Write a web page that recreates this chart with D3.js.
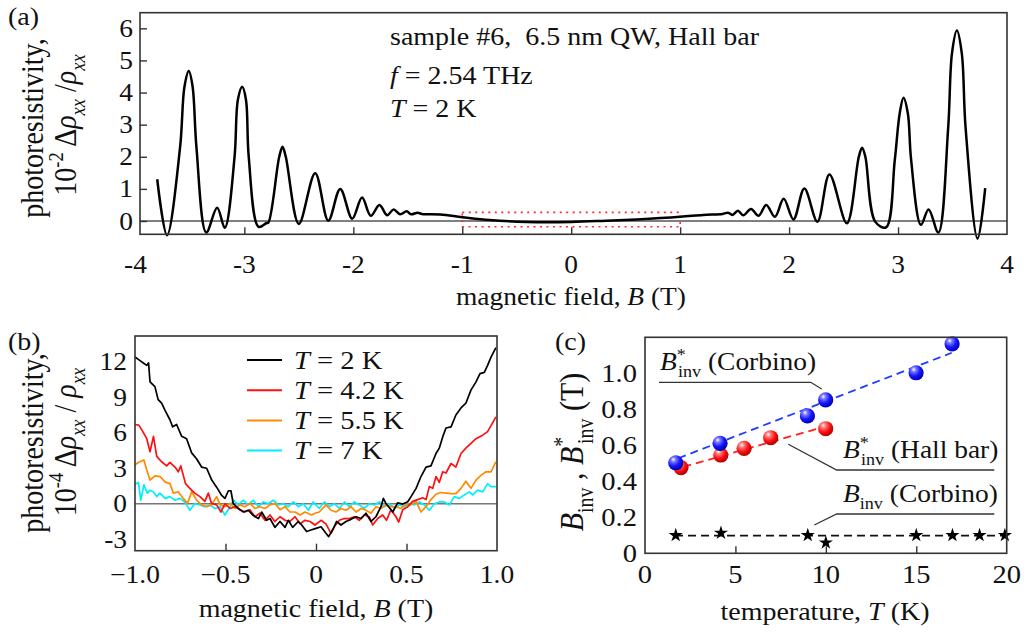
<!DOCTYPE html>
<html>
<head>
<meta charset="utf-8">
<script src="https://cdn.jsdelivr.net/npm/d3@7"></script>
<style>
  html, body { margin: 0; padding: 0; background: #fff; }
  svg { display: block; font-family: "Liberation Serif", "Times New Roman", serif; }
</style>
</head>
<body>
<svg id="fig" width="1026" height="639"></svg>
<script>
// ---------- panel (a): photoresistivity vs field, T = 2 K ----------
const fieldA = [-3.80, -3.71, -3.59, -3.55, -3.51, -3.475, -3.44, -3.35, -3.25, -3.18, -3.09, -3.06, -3.02, -2.985, -2.96,
  -2.87, -2.80, -2.78, -2.68, -2.65, -2.62, -2.50, -2.35, -2.23, -2.12, -2.01, -1.92, -1.84, -1.76, -1.69, -1.63, -1.57,
  -1.51, -1.47, -1.41, -1.37, -1.20, -1.00, -0.75, -0.41, 0.00, 0.32, 0.60, 1.00, 1.21, 1.39, 1.44, 1.48, 1.53, 1.58,
  1.65, 1.72, 1.79, 1.87, 1.95, 2.04, 2.14, 2.26, 2.37, 2.53, 2.64, 2.67, 2.70, 2.79, 2.89, 2.97, 3.015, 3.05, 3.09,
  3.12, 3.21, 3.28, 3.37, 3.46, 3.495, 3.54, 3.585, 3.62, 3.73, 3.80];
const photoA = [1.30, -0.44, 2.30, 4.18, 4.67, 4.18, 2.30, -0.36, 0.41, -0.21, 2.00, 3.77, 4.18, 3.77, 2.00,
  -0.18, -0.07, -0.05, 2.00, 2.31, 2.00, -0.09, 1.49, 0.01, 1.00, 0.07, 0.73, 0.16, 0.50, 0.18, 0.36, 0.21,
  0.30, 0.21, 0.26, 0.22, 0.20, 0.12, 0.03, -0.03, -0.03, 0.01, 0.05, 0.13, 0.19, 0.22, 0.26, 0.19, 0.32, 0.18,
  0.37, 0.16, 0.50, 0.13, 0.69, 0.05, 1.01, -0.02, 1.45, -0.07, 2.00, 2.28, 2.00, -0.02, -0.20, 1.90, 3.35, 3.84, 3.35,
  1.90, -0.12, 0.36, -0.36, 2.90, 5.22, 5.93, 5.22, 2.90, -0.55, 1.02];
const ticksA_x = [-4, -3, -2, -1, 0, 1, 2, 3, 4];
const ticksA_y = [0, 1, 2, 3, 4, 5, 6];
const zoomWindowB = [-1, 1];
const zoomWindowRho = [-0.18, 0.27];

// ---------- panel (b): low-field photoresistivity, several temperatures ----------
const curve2K = [[-1.0, 12.4], [-0.972, 12.1], [-0.954, 11.9], [-0.935, 11.7], [-0.925, 11.9], [-0.917, 10.3], [-0.890, 9.9],
  [-0.872, 8.8], [-0.853, 8.5], [-0.834, 7.9], [-0.807, 7.1], [-0.792, 6.5], [-0.770, 6.7], [-0.742, 5.7], [-0.715, 5.5],
  [-0.687, 4.3], [-0.660, 3.8], [-0.632, 3.1], [-0.604, 3.0], [-0.576, 2.0], [-0.549, 1.4], [-0.521, 0.7], [-0.503, 0.45],
  [-0.484, 1.1], [-0.470, 1.1], [-0.457, 0.0], [-0.429, -0.4], [-0.401, -0.7], [-0.374, -0.55], [-0.346, -1.0], [-0.318, -1.25],
  [-0.300, -0.7], [-0.273, -1.4], [-0.254, -1.25], [-0.227, -2.0], [-0.199, -1.5], [-0.171, -2.0], [-0.153, -1.4], [-0.129, -2.0],
  [-0.098, -1.5], [-0.079, -1.8], [-0.052, -2.35], [-0.024, -2.2], [0.0, -2.08], [0.028, -1.95], [0.055, -2.5], [0.070, -2.78],
  [0.092, -2.2], [0.114, -1.5], [0.138, -1.8], [0.166, -1.5], [0.193, -1.32], [0.221, -1.1], [0.249, -1.25], [0.276, -0.8],
  [0.304, -1.5], [0.331, -1.1], [0.359, -0.25], [0.372, 0.45], [0.387, 0.0], [0.409, -0.4], [0.424, -0.7], [0.451, 0.08],
  [0.479, -0.03], [0.507, 0.17], [0.525, 0.6], [0.553, 1.3], [0.580, 2.3], [0.608, 3.1], [0.635, 3.2], [0.663, 4.25],
  [0.681, 4.7], [0.700, 5.65], [0.718, 6.4], [0.746, 6.5], [0.773, 7.5], [0.801, 8.1], [0.828, 8.5], [0.856, 9.6],
  [0.884, 10.3], [0.906, 11.0], [0.930, 11.1], [0.948, 11.7], [0.967, 12.4], [0.994, 13.2]];
const curve4K2 = [[-1.0, 6.7], [-0.979, 6.65], [-0.961, 6.2], [-0.935, 5.5], [-0.917, 4.4], [-0.898, 5.7], [-0.880, 4.0],
  [-0.853, 3.55], [-0.825, 3.2], [-0.807, 3.5], [-0.779, 3.1], [-0.761, 2.7], [-0.747, 3.2], [-0.721, 1.7], [-0.697, 1.3],
  [-0.670, 0.9], [-0.641, 0.6], [-0.614, 0.2], [-0.595, 0.9], [-0.577, 0.03], [-0.549, -0.1], [-0.525, -0.7], [-0.503, 0.0],
  [-0.475, -0.4], [-0.448, -0.25], [-0.420, -0.5], [-0.393, -0.7], [-0.365, -0.5], [-0.337, -1.1], [-0.310, -0.8], [-0.282, -1.4],
  [-0.254, -0.95], [-0.227, -1.5], [-0.199, -1.1], [-0.171, -1.4], [-0.144, -1.5], [-0.116, -1.1], [-0.088, -1.7], [-0.061, -1.4],
  [-0.033, -1.5], [-0.006, -1.8], [0.028, -1.4], [0.055, -1.7], [0.083, -2.5], [0.101, -1.95], [0.129, -1.4], [0.157, -1.25],
  [0.184, -1.25], [0.212, -1.1], [0.239, -1.4], [0.267, -0.95], [0.295, -1.1], [0.313, -1.8], [0.341, -1.25], [0.368, -0.95],
  [0.390, -1.4], [0.414, -0.5], [0.442, -1.1], [0.457, -1.55], [0.479, -0.5], [0.507, -0.25], [0.534, 0.2], [0.562, 0.35],
  [0.589, 0.5], [0.608, 0.35], [0.626, 1.45], [0.645, 1.3], [0.663, 2.3], [0.681, 1.8], [0.700, 2.7], [0.718, 2.6],
  [0.746, 3.4], [0.773, 3.1], [0.801, 4.25], [0.828, 4.7], [0.856, 5.1], [0.884, 5.5], [0.921, 5.8], [0.948, 6.1],
  [0.967, 6.6], [0.994, 7.35]];
const curve5K5 = [[-1.0, 3.3], [-0.979, 3.5], [-0.951, 3.7], [-0.935, 2.85], [-0.917, 2.0], [-0.890, 2.35], [-0.862, 2.3],
  [-0.834, 1.85], [-0.807, 1.7], [-0.788, 0.9], [-0.761, 1.0], [-0.733, 0.45], [-0.710, 0.03], [-0.687, 1.0], [-0.660, 0.3],
  [-0.632, -0.1], [-0.604, -0.25], [-0.577, -0.1], [-0.549, 0.6], [-0.530, -0.1], [-0.503, -0.25], [-0.475, 0.03], [-0.448, -0.4],
  [-0.420, -0.1], [-0.393, -0.25], [-0.365, 0.03], [-0.337, -0.4], [-0.310, -0.25], [-0.282, -0.4], [-0.254, -0.1], [-0.227, 0.03],
  [-0.199, -0.5], [-0.171, -0.25], [-0.144, -0.7], [-0.116, -0.7], [-0.088, -0.95], [-0.061, -0.7], [-0.024, -0.95], [-0.006, -0.8],
  [0.018, -0.7], [0.055, -0.1], [0.083, -0.55], [0.110, -0.7], [0.138, -0.4], [0.166, -0.55], [0.193, -0.25], [0.221, -0.7],
  [0.249, -0.4], [0.276, -0.55], [0.304, -0.8], [0.331, -0.25], [0.359, -0.4], [0.387, -0.1], [0.414, -0.25], [0.442, -0.25],
  [0.470, -0.4], [0.497, 0.0], [0.525, -0.1], [0.553, 0.2], [0.580, -0.7], [0.608, -0.25], [0.635, 0.35], [0.663, 0.8],
  [0.690, 0.95], [0.718, 0.9], [0.746, 0.85], [0.773, 0.85], [0.801, 1.3], [0.828, 1.9], [0.856, 1.3], [0.884, 2.0],
  [0.911, 2.4], [0.939, 2.7], [0.967, 2.7], [0.994, 3.55]];
const curve7K = [[-1.0, 1.65], [-0.981, 1.8], [-0.968, 0.3], [-0.951, 1.6], [-0.932, 0.9], [-0.917, 1.15], [-0.898, 1.0],
  [-0.880, 0.6], [-0.862, 0.9], [-0.834, 0.45], [-0.807, 0.6], [-0.779, 0.3], [-0.752, 0.45], [-0.725, 0.15], [-0.697, -0.55],
  [-0.670, 0.0], [-0.641, -0.1], [-0.614, -0.25], [-0.586, -0.1], [-0.558, -0.4], [-0.530, -0.25], [-0.503, -0.95], [-0.475, -0.25],
  [-0.457, 0.3], [-0.429, -0.1], [-0.402, 0.3], [-0.374, -0.1], [-0.346, 0.3], [-0.318, -0.25], [-0.291, 0.15], [-0.263, 0.0],
  [-0.236, 0.3], [-0.208, -0.1], [-0.180, 0.0], [-0.153, -0.25], [-0.125, 0.15], [-0.098, -0.25], [-0.070, 0.0], [-0.042, -0.55],
  [-0.015, 0.15], [0.018, -0.4], [0.046, 0.15], [0.074, -0.25], [0.101, 0.0], [0.129, -0.4], [0.157, 0.15], [0.184, -0.25],
  [0.212, 0.15], [0.239, -0.1], [0.267, -0.4], [0.295, 0.0], [0.322, -0.1], [0.350, 0.15], [0.377, -0.25], [0.405, 0.0],
  [0.433, -0.4], [0.460, -0.1], [0.488, -0.25], [0.516, 0.0], [0.543, -0.1], [0.571, 0.15], [0.599, -0.1], [0.626, -0.55],
  [0.654, 0.0], [0.681, 0.15], [0.709, 0.15], [0.737, -0.1], [0.764, 0.6], [0.792, 0.45], [0.820, 0.75], [0.847, 1.0],
  [0.866, 0.75], [0.893, 1.15], [0.921, 1.0], [0.948, 1.7], [0.967, 1.45], [0.994, 1.45]];
const seriesB = [
  { name: "2", data: curve2K, color: "#000000" },
  { name: "4.2", data: curve4K2, color: "#ff1010" },
  { name: "5.5", data: curve5K5, color: "#ff8a00" },
  { name: "7", data: curve7K, color: "#00eeff" }
];
const ticksB_x = [-1.0, -0.5, 0, 0.5, 1.0];
const ticksB_y = [-3, 0, 3, 6, 9, 12];

// ---------- panel (c): inversion fields vs temperature ----------
const tempCorbinoStar = [1.7, 4.15, 8.98, 9.99, 14.99, 16.98];
const bCorbinoStar = [0.503, 0.611, 0.763, 0.852, 1.003, 1.163];
const tempHallStar = [1.99, 4.19, 5.48, 6.95, 9.99];
const bHallStar = [0.476, 0.546, 0.583, 0.642, 0.692];
const tempCorbino = [1.7, 4.2, 9.0, 10.0, 15.0, 17.0, 18.5, 19.9];
const bCorbino = [0.10, 0.113, 0.10, 0.059, 0.10, 0.10, 0.10, 0.10];
const fitCorbinoStar = [[1.84, 0.528], [16.96, 1.114]];
const fitHallStar = [[2.12, 0.48], [10.05, 0.707]];
const fitCorbino = [[1.66, 0.098], [20, 0.098]];
const ticksC_x = [0, 5, 10, 15, 20];
const ticksC_y = [0, 0.2, 0.4, 0.6, 0.8, 1.0];

// ---------- shared drawing helpers ----------
const svg = d3.select("#fig");
const SX = 1.12;          // glyphs of this figure run a little wide
const INK = "#111";
const FRAME = "#333";
const TICK_FS = 24.5;

function label(g, x, y, parts, o = {}) {
  const fs = o.size || 24;
  const rot = o.rotate ? " rotate(-90)" : "";
  const t = g.append("text")
    .attr("transform", `translate(${x},${y}) scale(${SX},1)${rot}`)
    .attr("font-size", fs)
    .attr("text-anchor", o.anchor || "start")
    .style("white-space", "pre")
    .attr("fill", o.fill || INK);
  let cur = 0;
  parts.forEach(p => {
    if (typeof p === "string") p = { t: p };
    let target = 0, size = fs;
    if (p.sub) { target = fs * 0.3; size = fs * 0.66; }
    if (p.sup) { target = -fs * 0.42; size = fs * 0.66; }
    const ts = t.append("tspan").text(p.t).attr("font-size", size);
    if (target - cur !== 0) ts.attr("dy", target - cur);
    if (p.dx) ts.attr("dx", p.dx);
    if (p.it) ts.attr("font-style", "italic");
    cur = target;
  });
  return t;
}

function frame(x0, y0, x1, y1) {
  svg.append("rect").attr("x", x0).attr("y", y0).attr("width", x1 - x0).attr("height", y1 - y0)
    .attr("fill", "none").attr("stroke", FRAME).attr("stroke-width", 1.6);
}

function inwardTicks(axis, scale, ticks, at, keep) {
  const g = svg.append("g").attr("transform", axis === "x" ? `translate(0,${at})` : `translate(${at},0)`);
  const ax = (axis === "x" ? d3.axisBottom(scale) : d3.axisLeft(scale))
    .tickValues(ticks.filter(keep)).tickSize(-7).tickFormat("");
  g.call(ax);
  g.select(".domain").remove();
  g.selectAll(".tick line").attr("stroke", FRAME).attr("stroke-width", 1.4);
}

// ================= (a) =================
const xA = d3.scaleLinear().domain([-3.958, 4.0]).range([140, 1007]);
const yA = d3.scaleLinear().domain([-0.414, 6.486]).range([234.3, 12.7]);

svg.append("line").attr("x1", xA.range()[0]).attr("x2", xA.range()[1])
  .attr("y1", yA(0)).attr("y2", yA(0)).attr("stroke", "#000").attr("stroke-width", 1.2);

svg.append("rect")
  .attr("x", xA(zoomWindowB[0])).attr("y", yA(zoomWindowRho[1]))
  .attr("width", xA(zoomWindowB[1]) - xA(zoomWindowB[0]))
  .attr("height", yA(zoomWindowRho[0]) - yA(zoomWindowRho[1]))
  .attr("fill", "none").attr("stroke", "#ff2a2a").attr("stroke-width", 1.6)
  .attr("stroke-dasharray", "2,4.5");

const lineA = d3.line().x(d => xA(d[0])).y(d => yA(d[1])).curve(d3.curveCatmullRom.alpha(0.5));
svg.append("path").datum(d3.zip(fieldA, photoA)).attr("d", lineA)
  .attr("fill", "none").attr("stroke", "#000").attr("stroke-width", 2.5).attr("stroke-linejoin", "round");

frame(140, 12.7, 1007, 234.3);
inwardTicks("x", xA, ticksA_x, 234.3, v => xA(v) > 141 && xA(v) < 1006);
inwardTicks("y", yA, ticksA_y, 140, () => true);

ticksA_x.forEach(v => label(svg, xA(v), 273, [String(v)], { anchor: "middle", size: TICK_FS }));
ticksA_y.forEach(v => label(svg, 133, yA(v) + 8.5, [String(v)], { anchor: "end", size: TICK_FS }));

label(svg, 571, 305, ["magnetic field, ", { t: "B", it: true }, " (T)"], { anchor: "middle", size: 24.5 });
label(svg, 43, 128, ["photoresistivity,"], { anchor: "middle", size: 28, rotate: true });
label(svg, 76, 125, ["10", { t: "-2", sup: true }, " \u0394", { t: "\u03c1", it: true }, { t: "xx", sub: true, it: true },
  " /", { t: "\u03c1", it: true }, { t: "xx", sub: true, it: true }], { anchor: "middle", size: 28, rotate: true });
label(svg, 8, 25, ["(a)"], { size: 25 });

label(svg, 390, 45, ["sample #6,  6.5 nm QW, Hall bar"], { size: 25 });
label(svg, 390, 84, [{ t: "f", it: true }, " = 2.54 THz"], { size: 25 });
label(svg, 390, 117, [{ t: "T", it: true }, " = 2 K"], { size: 25 });

// ================= (b) =================
const xB = d3.scaleLinear().domain([-1, 1]).range([135, 497]);
const yB = d3.scaleLinear().domain([-3.97, 14.18]).range([550.7, 336]);

svg.append("line").attr("x1", 135).attr("x2", 497).attr("y1", yB(0)).attr("y2", yB(0))
  .attr("stroke", "#777").attr("stroke-width", 1.4);

const lineB = d3.line().x(d => xB(d[0])).y(d => yB(d[1]));
[...seriesB].reverse().forEach(s => {
  svg.append("path").datum(s.data).attr("d", lineB)
    .attr("fill", "none").attr("stroke", s.color).attr("stroke-width", 1.7).attr("stroke-linejoin", "round");
});

frame(135, 336, 497, 550.7);
inwardTicks("x", xB, ticksB_x, 550.7, v => xB(v) > 136 && xB(v) < 496);

const fmtB = v => (v === 0 ? "0" : d3.format(".1f")(v));
ticksB_x.forEach(v => label(svg, xB(v), 583, [fmtB(v)], { anchor: "middle", size: TICK_FS }));
ticksB_y.forEach(v => label(svg, 127, yB(v) + 8.5, [String(v)], { anchor: "end", size: TICK_FS }));

seriesB.forEach((s, i) => {
  const yy = 360 + i * 30.2;
  svg.append("line").attr("x1", 247).attr("x2", 282).attr("y1", yy).attr("y2", yy)
    .attr("stroke", s.color).attr("stroke-width", 2);
  label(svg, 294, yy + 8.5, [{ t: "T", it: true }, ` = ${s.name} K`], { size: 25.5 });
});

label(svg, 316, 617, ["magnetic field, ", { t: "B", it: true }, " (T)"], { anchor: "middle", size: 25 });
label(svg, 43, 443, ["photoresistivity,"], { anchor: "middle", size: 28, rotate: true });
label(svg, 76, 442, ["10", { t: "-4", sup: true }, " \u0394", { t: "\u03c1", it: true }, { t: "xx", sub: true, it: true },
  " / ", { t: "\u03c1", it: true }, { t: "xx", sub: true, it: true }], { anchor: "middle", size: 28, rotate: true });
label(svg, 8, 350, ["(b)"], { size: 25 });

// ================= (c) =================
const xC = d3.scaleLinear().domain([0, 20]).range([645, 1006.7]);
const yC = d3.scaleLinear().domain([0, 1.2]).range([553.3, 337.3]);

const defs = svg.append("defs");
function ballGradient(id, light, base, dark) {
  const gr = defs.append("radialGradient").attr("id", id)
    .attr("cx", "38%").attr("cy", "32%").attr("r", "70%").attr("fx", "34%").attr("fy", "28%");
  gr.append("stop").attr("offset", "0%").attr("stop-color", "#ffffff");
  gr.append("stop").attr("offset", "22%").attr("stop-color", light);
  gr.append("stop").attr("offset", "60%").attr("stop-color", base);
  gr.append("stop").attr("offset", "100%").attr("stop-color", dark);
}
ballGradient("ballBlue", "#7c7cff", "#1414ff", "#0000a8");
ballGradient("ballRed", "#ff8080", "#ff1010", "#a80000");

const lineC = d3.line().x(d => xC(d[0])).y(d => yC(d[1]));
[[fitCorbinoStar, "#1f3cff"], [fitHallStar, "#ff2020"], [fitCorbino, "#111"]].forEach(([pts, c]) => {
  svg.append("path").datum(pts).attr("d", lineC).attr("fill", "none")
    .attr("stroke", c).attr("stroke-width", 1.8).attr("stroke-dasharray", "8,5");
});

svg.append("g").selectAll("circle").data(d3.zip(tempHallStar, bHallStar)).join("circle")
  .attr("cx", d => xC(d[0])).attr("cy", d => yC(d[1])).attr("r", 7.6).attr("fill", "url(#ballRed)");
svg.append("g").selectAll("circle").data(d3.zip(tempCorbinoStar, bCorbinoStar)).join("circle")
  .attr("cx", d => xC(d[0])).attr("cy", d => yC(d[1])).attr("r", 7.6).attr("fill", "url(#ballBlue)");

const star = d3.symbol().type(d3.symbolStar).size(62);
svg.append("g").selectAll("path").data(d3.zip(tempCorbino, bCorbino)).join("path")
  .attr("transform", d => `translate(${xC(d[0])},${yC(d[1])})`).attr("d", star).attr("fill", "#000");

frame(645, 337.3, 1006.7, 553.3);
inwardTicks("x", xC, ticksC_x, 553.3, v => xC(v) > 646 && xC(v) < 1006);

ticksC_x.forEach(v => label(svg, xC(v), 583, [String(v)], { anchor: "middle", size: 25.5 }));
ticksC_y.forEach(v => label(svg, 637, yC(v) + 8.5, [v === 0 ? "0" : d3.format(".1f")(v)], { anchor: "end", size: 25.5 }));

// leader lines from the annotations to their data sets
const leader = d3.line();
[
  [[659, 382.3], [810.7, 382.3], [821.7, 389]],
  [[788.3, 444.3], [836.7, 470], [994.3, 470]],
  [[814.3, 525], [836.7, 514], [994.3, 514]]
].forEach(pts => {
  svg.append("path").attr("d", leader(pts)).attr("fill", "none").attr("stroke", "#333").attr("stroke-width", 1.3);
});

label(svg, 660, 370, [{ t: "B", it: true }, { t: "*", sup: true }, { t: "inv", sub: true, dx: -7 }, " (Corbino)"], { size: 24.5 });
label(svg, 843, 458, [{ t: "B", it: true }, { t: "*", sup: true }, { t: "inv", sub: true, dx: -7 }, " (Hall bar)"], { size: 24.5 });
label(svg, 843, 502, [{ t: "B", it: true }, { t: "inv", sub: true }, " (Corbino)"], { size: 24.5 });

label(svg, 825, 620, ["temperature, ", { t: "T", it: true }, " (K)"], { anchor: "middle", size: 25 });
label(svg, 583, 452, [{ t: "B", it: true }, { t: "inv", sub: true }, " , ", { t: "B", it: true }, { t: "*", sup: true },
  { t: "inv", sub: true, dx: -7 }, " (T)"], { anchor: "middle", size: 30, rotate: true });
label(svg, 555, 350, ["(c)"], { size: 25 });
</script>
</body>
</html>
